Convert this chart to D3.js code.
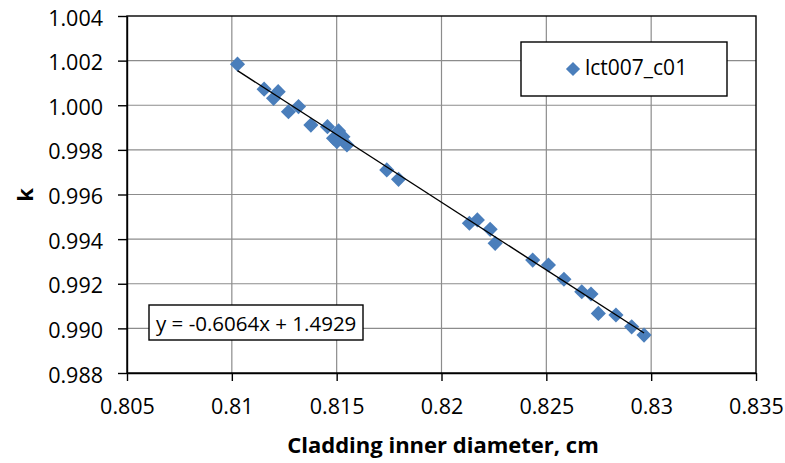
<!DOCTYPE html>
<html>
<head>
<meta charset="utf-8">
<script src="https://cdn.jsdelivr.net/npm/d3@7"></script>
<style>
  html, body { margin: 0; padding: 0; background: #fff; }
  svg { display: block; font-family: "Open Sans", "Liberation Sans", sans-serif; }
</style>
</head>
<body>
<svg id="chart" width="785" height="463"></svg>
<script>
// Cladding inner diameter (cm) vs. k for case lct007_c01
const seriesName = "lct007_c01";
const diameter = [
  0.81027, 0.81154, 0.81221, 0.81199, 0.81270, 0.81318, 0.81377, 0.81456,
  0.81509, 0.81485, 0.81530, 0.81549, 0.81501, 0.81739, 0.81795,
  0.82133, 0.82171, 0.82232, 0.82256, 0.82435, 0.82510, 0.82584,
  0.82669, 0.82713, 0.82748, 0.82832, 0.82907, 0.82966
];
const kValues = [
  1.00184, 1.00072, 1.00061, 1.00031, 0.99971, 0.99994, 0.99911, 0.99904,
  0.99885, 0.99852, 0.99859, 0.99822, 0.99837, 0.99710, 0.99668,
  0.99471, 0.99486, 0.99444, 0.99381, 0.99306, 0.99284, 0.99220,
  0.99164, 0.99154, 0.99067, 0.99060, 0.99007, 0.98970
];
// Linear trendline coefficients
const slope = -0.6064;
const intercept = 1.4929;
const xTicks = [0.805, 0.81, 0.815, 0.82, 0.825, 0.83, 0.835];
const yTicks = [0.988, 0.990, 0.992, 0.994, 0.996, 0.998, 1.000, 1.002, 1.004];

const svg = d3.select("#chart");
const plotL = 127, plotR = 756, plotT = 16, plotB = 373;
const fontSize = "21.5px";

const x = d3.scaleLinear().domain([0.805, 0.835]).range([plotL, plotR]);
const y = d3.scaleLinear().domain([0.988, 1.004]).range([plotB, plotT]);

// gridlines
const grid = svg.append("g");
grid.selectAll("line.v").data(xTicks.slice(1, -1)).join("line")
  .attr("x1", d => x(d)).attr("x2", d => x(d))
  .attr("y1", plotT).attr("y2", plotB)
  .attr("stroke", "#8c8c8c").attr("stroke-width", 1.2);
grid.selectAll("line.h").data(yTicks.slice(1, -1)).join("line")
  .attr("x1", plotL).attr("x2", plotR)
  .attr("y1", d => y(d)).attr("y2", d => y(d))
  .attr("stroke", "#8c8c8c").attr("stroke-width", 1.2);

// plot border
svg.append("rect")
  .attr("x", plotL).attr("y", plotT)
  .attr("width", plotR - plotL).attr("height", plotB - plotT)
  .attr("fill", "none").attr("stroke", "#000").attr("stroke-width", 1.4);

// axes
const xAxis = d3.axisBottom(x).tickValues(xTicks).tickSize(8).tickSizeOuter(0)
  .tickFormat(d => String(+d.toFixed(3)));
const gx = svg.append("g").attr("transform", `translate(0,${plotB})`).call(xAxis);
const yAxis = d3.axisLeft(y).tickValues(yTicks).tickSize(9).tickSizeOuter(0)
  .tickFormat(d3.format(".3f"));
const gy = svg.append("g").attr("transform", `translate(${plotL},0)`).call(yAxis);

[gx, gy].forEach(g => {
  g.select(".domain").attr("stroke", "#000").attr("stroke-width", 1.4);
  g.selectAll(".tick line").attr("stroke", "#000").attr("stroke-width", 1.4);
  g.selectAll(".tick text").attr("fill", "#000")
    .style("font-size", fontSize).style("font-family", "'Open Sans', sans-serif");
});
gx.selectAll(".tick text").attr("y", 41).attr("dy", 0);
gy.selectAll(".tick text").attr("x", -24).attr("dy", 9);

// trendline endpoints
const xs = d3.extent(diameter);

// data markers
const pts = diameter.map((d, i) => [d, kValues[i]]);
svg.append("g").selectAll("path").data(pts).join("path")
  .attr("d", d3.symbol().type(d3.symbolSquare).size(115))
  .attr("transform", d => `translate(${x(d[0])},${y(d[1])}) rotate(45)`)
  .attr("fill", "#4a7ebb");

// trendline drawn over markers
svg.append("line")
  .attr("x1", x(xs[0])).attr("y1", y(slope * xs[0] + intercept))
  .attr("x2", x(xs[1])).attr("y2", y(slope * xs[1] + intercept))
  .attr("stroke", "#000").attr("stroke-width", 1.4);

// axis titles
svg.append("text")
  .attr("transform", `translate(33,195) rotate(-90)`)
  .attr("text-anchor", "middle")
  .style("font-size", "22px").style("font-weight", "bold")
  .text("k");
svg.append("text")
  .attr("x", 443).attr("y", 453)
  .attr("text-anchor", "middle")
  .style("font-size", "22px").style("font-weight", "bold")
  .text("Cladding inner diameter, cm");

// legend
const lg = svg.append("g");
lg.append("rect").attr("x", 521).attr("y", 42).attr("width", 206).attr("height", 54)
  .attr("fill", "#fff").attr("stroke", "#000").attr("stroke-width", 1.4);
lg.append("path")
  .attr("d", d3.symbol().type(d3.symbolSquare).size(100))
  .attr("transform", "translate(573,69) rotate(45)")
  .attr("fill", "#4a7ebb");
lg.append("text").attr("x", 585).attr("y", 75)
  .style("font-size", "21px").text(seriesName);

// trendline equation label
const eq = svg.append("g");
eq.append("rect").attr("x", 149).attr("y", 305).attr("width", 214).attr("height", 35)
  .attr("fill", "#fff").attr("stroke", "#000").attr("stroke-width", 1.4);
eq.append("text").attr("x", 156).attr("y", 331)
  .style("font-size", "20.5px")
  .text(`y = ${slope}x + ${intercept}`);
</script>
</body>
</html>
